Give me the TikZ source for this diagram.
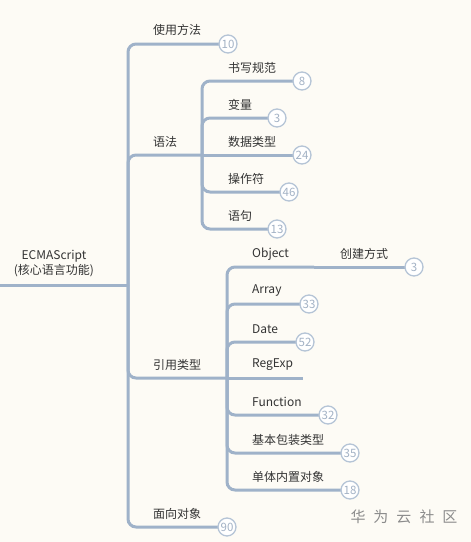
\documentclass[tikz,border=0pt]{standalone}
\usepackage{fontspec}
\setmainfont{Noto Sans CJK SC}
\definecolor{linec}{HTML}{9FB2C9}
\definecolor{circc}{HTML}{B5C4D6}
\definecolor{numc}{HTML}{A3B2C5}
\definecolor{bgc}{HTML}{FDFBF5}
\definecolor{txtc}{HTML}{333333}
\definecolor{wmc}{HTML}{8C8C8C}
\begin{document}
\begin{tikzpicture}[x=1pt,y=-1pt,
  branch/.style={draw=linec, line width=3pt, rounded corners=8pt},
  lbl/.style={anchor=west, inner sep=0pt, text=txtc, font=\fontsize{12pt}{15pt}\selectfont},
  cnt/.style={circle, draw=circc, line width=1.3pt, fill=white, minimum size=18pt, inner sep=0pt, text=numc, font=\fontsize{11.5pt}{12pt}\selectfont}]

\fill[bgc] (0,0) rectangle (471,542);
\useasboundingbox (0,0) rectangle (471,542);

% junction coordinates
\coordinate (rootL) at (0,285);
\coordinate (mainJ) at (128,285);
\coordinate (synJ) at (202,155);
\coordinate (refJ) at (227,378);
\coordinate (objJ) at (314,267);
\coordinate (regEnd) at (303,378);

% root
\node[inner sep=0pt, text=txtc, align=center, font=\fontsize{12pt}{15pt}\selectfont] (root) at (54,264) {ECMAScript\\(核心语言功能)};

% labels
\node[lbl] (tUse) at (153,30) {使用方法};
\node[lbl] (tSyn) at (153,142) {语法};
\node[lbl] (tRef) at (153,365) {引用类型};
\node[lbl] (tOop) at (153,514) {面向对象};

\node[lbl] (tWrite) at (228,68) {书写规范};
\node[lbl] (tVar) at (228,105) {变量};
\node[lbl] (tType) at (228,142) {数据类型};
\node[lbl] (tOp) at (228,179) {操作符};
\node[lbl] (tStmt) at (228,216) {语句};

\node[lbl] (tObj) at (252,254) {Object};
\node[lbl] (tCreate) at (340,254) {创建方式};
\node[lbl] (tArr) at (252,291) {Array};
\node[lbl] (tDate) at (252,329) {Date};
\node[lbl] (tReg) at (252,365) {RegExp};
\node[lbl] (tFun) at (252,402) {Function};
\node[lbl] (tWrap) at (252,440) {基本包装类型};
\node[lbl] (tBuilt) at (252,477) {单体内置对象};

% count bubbles (positions)
\coordinate (p10) at (228,44);
\coordinate (p8) at (302,81);
\coordinate (p3a) at (277,118);
\coordinate (p24) at (302,155);
\coordinate (p46) at (289,192);
\coordinate (p13) at (277,229);
\coordinate (p3b) at (414,267);
\coordinate (p33) at (309,304);
\coordinate (p52) at (305,342);
\coordinate (p32) at (328,415);
\coordinate (p35) at (350,453);
\coordinate (p18) at (350,490);
\coordinate (p90) at (227,527);

% connectors
\draw[branch] (rootL) -- (mainJ);
\draw[branch] (mainJ) |- (p10);
\draw[branch] (mainJ) |- (synJ);
\draw[branch] (mainJ) |- (refJ);
\draw[branch] (mainJ) |- (p90);

\draw[branch] (synJ) |- (p8);
\draw[branch] (synJ) |- (p3a);
\draw[branch] (synJ) -- (p24);
\draw[branch] (synJ) |- (p46);
\draw[branch] (synJ) |- (p13);

\draw[branch] (refJ) |- (objJ);
\draw[branch] (objJ) -- (p3b);
\draw[branch] (refJ) |- (p33);
\draw[branch] (refJ) |- (p52);
\draw[branch] (refJ) -- (regEnd);
\draw[branch] (refJ) |- (p32);
\draw[branch] (refJ) |- (p35);
\draw[branch] (refJ) |- (p18);

\node[cnt] (n10) at (p10) {10};
\node[cnt] (n8) at (p8) {8};
\node[cnt] (n3a) at (p3a) {3};
\node[cnt] (n24) at (p24) {24};
\node[cnt] (n46) at (p46) {46};
\node[cnt] (n13) at (p13) {13};
\node[cnt] (n3b) at (p3b) {3};
\node[cnt] (n33) at (p33) {33};
\node[cnt] (n52) at (p52) {52};
\node[cnt] (n32) at (p32) {32};
\node[cnt] (n35) at (p35) {35};
\node[cnt] (n18) at (p18) {18};
\node[cnt] (n90) at (p90) {90};

% watermark
\node[inner sep=0pt, text=wmc, font=\fontsize{15pt}{18pt}\selectfont] (wm) at (404,517) {华\hskip8pt 为\hskip8pt 云\hskip8pt 社\hskip8pt 区};
\end{tikzpicture}
\end{document}
